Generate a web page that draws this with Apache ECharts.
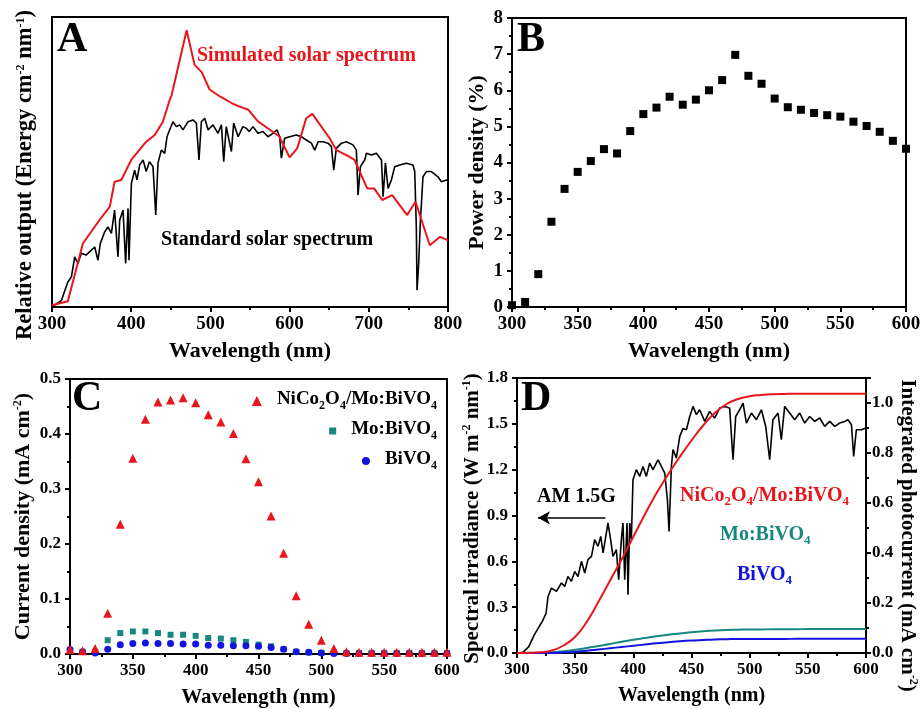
<!DOCTYPE html>
<html>
<head>
<meta charset="utf-8">
<script src="https://cdn.jsdelivr.net/npm/echarts@6/dist/echarts.min.js"></script>
<style>
  html, body { margin: 0; padding: 0; background: #fff; }
  #chart { width: 921px; height: 709px; }
</style>
</head>
<body>
<div id="chart"></div>
<script>
// ---- panel A: solar spectra (relative units) ----
const stdWl = [300, 305, 312, 320, 324.5, 328.7, 332.8, 337, 343, 349.7, 354, 358, 361, 366.5, 370.7, 375, 379, 383.3, 385.5, 389.7, 393, 396, 397.2, 400.2, 404.4, 407.3, 410.7, 415, 419, 423, 427.5, 431, 433.8, 438, 442.3, 445.2, 448.6, 452.8, 457, 461, 465.4, 471.7, 478, 482.3, 485.6, 488.6, 492.8, 497, 503.3, 509.6, 513.9, 516.8, 520, 526.5, 529.4, 535, 541, 545.4, 549, 553.8, 560, 566.4, 572.7, 579, 584, 587.5, 589.6, 593.8, 600, 608.5, 615, 621, 627.5, 631.7, 636, 642, 648.5, 652.8, 655.7, 659, 665.4, 671.7, 680, 684.3, 686.4, 689.4, 694.8, 697, 703.3, 709.6, 716, 718, 721, 724.3, 728.5, 732.7, 739, 747.5, 755.8, 758, 760, 760.9, 763, 765, 768.4, 772.7, 779, 787.4, 791.7, 798, 800];
const stdVal = [0.002, 0.01, 0.023, 0.086, 0.104, 0.173, 0.150, 0.185, 0.179, 0.196, 0.207, 0.161, 0.219, 0.259, 0.276, 0.254, 0.334, 0.173, 0.300, 0.334, 0.150, 0.340, 0.161, 0.426, 0.472, 0.438, 0.490, 0.507, 0.467, 0.501, 0.484, 0.317, 0.496, 0.541, 0.530, 0.587, 0.611, 0.639, 0.622, 0.628, 0.611, 0.639, 0.645, 0.634, 0.507, 0.639, 0.651, 0.611, 0.628, 0.599, 0.628, 0.501, 0.622, 0.536, 0.634, 0.587, 0.622, 0.616, 0.605, 0.622, 0.599, 0.605, 0.587, 0.599, 0.611, 0.587, 0.513, 0.582, 0.587, 0.593, 0.587, 0.576, 0.565, 0.541, 0.570, 0.570, 0.565, 0.553, 0.472, 0.547, 0.565, 0.570, 0.559, 0.541, 0.386, 0.484, 0.507, 0.530, 0.524, 0.530, 0.507, 0.380, 0.496, 0.409, 0.438, 0.484, 0.490, 0.496, 0.490, 0.467, 0.276, 0.058, 0.150, 0.288, 0.449, 0.467, 0.467, 0.449, 0.432, 0.438, 0.435];
const simWl = [300, 320, 339, 360, 373, 379, 387.5, 400, 419, 429.7, 440, 448.6, 451, 470, 480, 489, 499, 512, 529, 537, 548, 560, 568, 587, 600, 609.6, 621, 628.7, 650.5, 659, 671.7, 682, 698, 706.7, 717, 729.5, 748.5, 759, 777, 790, 800];
const simVal = [0.006, 0.02, 0.219, 0.300, 0.346, 0.432, 0.438, 0.507, 0.570, 0.593, 0.639, 0.714, 0.730, 0.954, 0.835, 0.810, 0.750, 0.726, 0.700, 0.691, 0.680, 0.640, 0.625, 0.588, 0.516, 0.547, 0.651, 0.666, 0.582, 0.541, 0.524, 0.507, 0.409, 0.409, 0.369, 0.386, 0.317, 0.363, 0.213, 0.242, 0.230];

// ---- panel B: power density (%) ----
const powerWl = [300, 310, 320, 330, 340, 350, 360, 370, 380, 390, 400, 410, 420, 430, 440, 450, 460, 470, 480, 490, 500, 510, 520, 530, 540, 550, 560, 570, 580, 590, 600];
const powerVal = [0.05, 0.14, 0.91, 2.36, 3.27, 3.74, 4.04, 4.37, 4.25, 4.87, 5.34, 5.52, 5.82, 5.60, 5.74, 6.00, 6.28, 6.98, 6.40, 6.18, 5.77, 5.53, 5.46, 5.37, 5.31, 5.27, 5.13, 5.01, 4.85, 4.60, 4.38];

// ---- panel C: current density (mA cm-2) ----
const qeWl = [300, 310, 320, 330, 340, 350, 360, 370, 380, 390, 400, 410, 420, 430, 440, 450, 460, 470, 480, 490, 500, 510, 520, 530, 540, 550, 560, 570, 580, 590, 600];
const nicoCur = [0.008, 0.006, 0.010, 0.074, 0.236, 0.356, 0.427, 0.458, 0.462, 0.466, 0.457, 0.435, 0.422, 0.401, 0.355, 0.313, 0.251, 0.183, 0.106, 0.054, 0.025, 0.010, 0.004, 0.003, 0.003, 0.003, 0.003, 0.003, 0.003, 0.003, 0.003];
const moCur = [0.006, 0.004, 0.004, 0.025, 0.038, 0.041, 0.041, 0.038, 0.035, 0.035, 0.033, 0.029, 0.028, 0.025, 0.022, 0.017, 0.014, 0.009, 0.004, 0.003, 0.002, 0.002, 0.002, 0.002, 0.002, 0.002, 0.002, 0.002, 0.002, 0.002, 0.002];
const bvoCur = [0.008, 0.004, 0.002, 0.0085, 0.017, 0.019, 0.020, 0.019, 0.019, 0.018, 0.018, 0.016, 0.016, 0.015, 0.015, 0.014, 0.012, 0.0085, 0.004, 0.003, 0.002, 0.001, 0.001, 0.001, 0.001, 0.001, 0.001, 0.001, 0.001, 0.001, 0.001];

// ---- panel D: AM 1.5G irradiance + integrated photocurrent ----
const amWl = [300, 305, 310, 315, 318, 320, 322, 325, 326.7, 329.6, 333.9, 338.2, 341, 343.8, 346.8, 349.6, 352.4, 355.4, 358.2, 361, 364, 366.8, 369.6, 372, 374, 376.8, 378.2, 380.5, 382.5, 385.4, 387.4, 389.7, 391.1, 392.6, 394.6, 395.4, 396.9, 398.3, 399.7, 402.6, 405.5, 408.3, 411.2, 414, 416.9, 421.2, 424.1, 427, 429.3, 430.7, 432.7, 434.1, 437, 439.9, 442.7, 445.6, 448.5, 451.3, 454.2, 457, 461.4, 465.6, 469.9, 474.2, 478.5, 482.8, 485.7, 488, 491.4, 494.3, 497.2, 501.5, 505.8, 510.1, 513.8, 517.2, 520, 524.4, 527.2, 530.1, 534.4, 538.7, 543, 547.3, 551.6, 555.9, 560.2, 564.5, 568.8, 573.1, 577.4, 581.7, 584.5, 587.5, 589.4, 591.7, 596, 600];
const amVal = [0, 0.004, 0.04, 0.12, 0.16, 0.185, 0.21, 0.26, 0.37, 0.425, 0.403, 0.458, 0.436, 0.501, 0.469, 0.534, 0.501, 0.60, 0.524, 0.611, 0.632, 0.742, 0.698, 0.763, 0.655, 0.785, 0.851, 0.742, 0.632, 0.676, 0.48, 0.742, 0.851, 0.48, 0.851, 0.382, 0.851, 0.742, 1.134, 1.20, 1.156, 1.221, 1.156, 1.243, 1.20, 1.265, 1.221, 1.178, 1.003, 0.796, 1.221, 1.331, 1.276, 1.418, 1.47, 1.461, 1.548, 1.614, 1.56, 1.592, 1.516, 1.581, 1.538, 1.603, 1.614, 1.603, 1.265, 1.548, 1.592, 1.636, 1.505, 1.571, 1.527, 1.592, 1.483, 1.265, 1.527, 1.571, 1.396, 1.614, 1.571, 1.527, 1.571, 1.505, 1.548, 1.516, 1.538, 1.483, 1.516, 1.483, 1.505, 1.516, 1.527, 1.494, 1.287, 1.461, 1.461, 1.473];
const integWl = [300, 310, 320, 330, 340, 350, 360, 370, 380, 390, 400, 410, 420, 430, 440, 450, 460, 470, 480, 490, 500, 510, 520, 530, 540, 550, 560, 570, 580, 590, 600];
const nicoInt = [0, 0.001, 0.003, 0.01, 0.03, 0.065, 0.125, 0.205, 0.29, 0.375, 0.465, 0.555, 0.64, 0.715, 0.785, 0.85, 0.91, 0.96, 0.995, 1.016, 1.027, 1.032, 1.035, 1.036, 1.037, 1.037, 1.037, 1.037, 1.037, 1.037, 1.037];
const moInt = [0, 0, 0.001, 0.003, 0.007, 0.013, 0.02, 0.028, 0.036, 0.045, 0.053, 0.06, 0.067, 0.073, 0.078, 0.083, 0.087, 0.09, 0.092, 0.093, 0.094, 0.094, 0.095, 0.095, 0.095, 0.096, 0.096, 0.096, 0.096, 0.096, 0.096];
const bvoInt = [0, 0, 0, 0, 0.002, 0.005, 0.009, 0.014, 0.019, 0.024, 0.029, 0.034, 0.039, 0.043, 0.047, 0.05, 0.052, 0.054, 0.055, 0.056, 0.056, 0.056, 0.056, 0.056, 0.057, 0.057, 0.057, 0.057, 0.057, 0.057, 0.057];

const FONT = "'Liberation Serif', 'Times New Roman', serif";
const RED = '#e8161c', TEAL = '#17877f', BLUE = '#1414e0';

function pairs(xs, ys) {
    return xs.map((x, i) => [x, ys[i]]);
}

// rich style for axis titles with superscripts
function nameStyle(size, padding) {
    return {
        fontFamily: FONT, fontWeight: 'bold', fontSize: size, color: '#000', padding: padding || 0,
        rich: {
            m: { fontFamily: FONT, fontWeight: 'bold', fontSize: size, color: '#000', lineHeight: 22, verticalAlign: 'bottom' },
            sup: { fontFamily: FONT, fontWeight: 'bold', fontSize: 12, color: '#000', lineHeight: 10, verticalAlign: 'top' }
        }
    };
}

// ticks sit outside the frame, like the original Origin plots
const tickStyle = { show: true, inside: false, length: 5, lineStyle: { color: '#000', width: 2 } };
const minorStyle = { show: true, splitNumber: 2, length: 3, lineStyle: { color: '#000', width: 2 } };

function xAxisFor(grid, tickSize, nameSize) {
    return {
        gridIndex: grid, type: 'value', min: 300, max: grid == 0 ? 800 : 600, interval: grid == 0 ? 100 : 50,
        name: 'Wavelength (nm)', nameLocation: 'middle', nameGap: 33,
        nameTextStyle: { fontFamily: FONT, fontWeight: 'bold', fontSize: nameSize, color: '#000' },
        axisLine: { show: true, onZero: false, lineStyle: { color: '#000', width: 2 } },
        axisTick: tickStyle,
        minorTick: minorStyle,
        axisLabel: { margin: 8, fontFamily: FONT, fontWeight: 'bold', fontSize: tickSize, color: '#000' },
        splitLine: { show: false }
    };
}

function yAxisFor(grid, opts) {
    return Object.assign({
        gridIndex: grid, type: 'value',
        nameLocation: 'middle',
        axisLine: { show: true, onZero: false, lineStyle: { color: '#000', width: 2 } },
        axisTick: tickStyle,
        minorTick: minorStyle,
        axisLabel: { margin: 8, fontFamily: FONT, fontWeight: 'bold', fontSize: 17, color: '#000' },
        splitLine: { show: false }
    }, opts);
}

const gridBase = { show: true, borderColor: '#000', borderWidth: 2, backgroundColor: 'transparent', outerBoundsMode: 'none' };

// legend text with subscripts
const subRich = {
    g: { width: 10 },
    m: { fontFamily: FONT, fontWeight: 'bold', fontSize: 19, color: '#000', lineHeight: 22, verticalAlign: 'top' },
    s: { fontFamily: FONT, fontWeight: 'bold', fontSize: 12, color: '#000', lineHeight: 12, verticalAlign: 'bottom' }
};
const legendText = {
    'NiCo2O4/Mo:BiVO4': '{g|}{m|NiCo}{s|2}{m|O}{s|4}{m|/Mo:BiVO}{s|4}',
    'Mo:BiVO4': '{g|}{m|Mo:BiVO}{s|4}',
    'BiVO4': '{g|}{m|BiVO}{s|4}'
};
function legendFor(name, top, size) {
    return {
        data: [name], right: 484, top: top, padding: 0, selectedMode: false,
        itemWidth: size, itemHeight: size,
        formatter: n => legendText[n],
        textStyle: { color: '#000', rich: subRich }
    };
}

function graphicRich(text, x, y, color) {
    return {
        type: 'text', x: x, y: y,
        style: {
            text: text, verticalAlign: 'middle', fill: color,
            rich: {
                m: { fontFamily: FONT, fontWeight: 'bold', fontSize: 20, fill: color, lineHeight: 22, verticalAlign: 'top' },
                s: { fontFamily: FONT, fontWeight: 'bold', fontSize: 13, fill: color, lineHeight: 12, verticalAlign: 'bottom' }
            }
        }
    };
}
function graphicText(text, x, y, color, size) {
    return {
        type: 'text', x: x, y: y,
        style: { text: text, fontFamily: FONT, fontWeight: 'bold', fontSize: size, fill: color, verticalAlign: 'middle' }
    };
}

const chart = echarts.init(document.getElementById('chart'));
const option = {
    animation: false,
    backgroundColor: '#fff',
    grid: [
        Object.assign({ left: 52, top: 17, width: 396, height: 290 }, gridBase),
        Object.assign({ left: 512, top: 18, width: 394, height: 289 }, gridBase),
        Object.assign({ left: 70, top: 379, width: 377, height: 275 }, gridBase),
        Object.assign({ left: 517, top: 378, width: 349, height: 275 }, gridBase)
    ],
    xAxis: [xAxisFor(0, 19, 22), xAxisFor(1, 19, 22), xAxisFor(2, 17, 21), xAxisFor(3, 17, 20)],
    yAxis: [
        yAxisFor(0, {
            min: 0, max: 1, axisTick: { show: false }, minorTick: { show: false }, axisLabel: { show: false },
            name: '{m|Relative output (Energy cm}{sup|-2}{m| nm}{sup|-1}{m|)}', nameGap: 15, nameTextStyle: nameStyle(22.5, [0, 26, 0, 0])
        }),
        yAxisFor(1, {
            min: 0, max: 8, interval: 1, axisLabel: { margin: 9, fontFamily: FONT, fontWeight: 'bold', fontSize: 19, color: '#000' },
            name: 'Power density (%)', nameGap: 24, nameTextStyle: { fontFamily: FONT, fontWeight: 'bold', fontSize: 22, color: '#000' }
        }),
        yAxisFor(2, {
            min: 0, max: 0.5, interval: 0.1,
            axisLabel: { margin: 9, fontFamily: FONT, fontWeight: 'bold', fontSize: 17, color: '#000', formatter: v => v.toFixed(1) },
            name: '{m|Current density (mA cm}{sup|-2}{m|)}', nameGap: 36, nameTextStyle: nameStyle(22)
        }),
        yAxisFor(3, {
            min: 0, max: 1.8, interval: 0.3,
            axisLabel: { margin: 9, fontFamily: FONT, fontWeight: 'bold', fontSize: 17, color: '#000', formatter: v => v.toFixed(1) },
            name: '{m|Spectral irradiance (W m}{sup|-2}{m| nm}{sup|-1}{m|)}', nameGap: 33, nameTextStyle: nameStyle(21, [0, 6, 0, 0])
        }),
        yAxisFor(3, {
            position: 'right', min: 0, max: 1.1, interval: 0.2,
            axisLabel: { margin: 6, fontFamily: FONT, fontWeight: 'bold', fontSize: 17, color: '#000', showMaxLabel: false, formatter: v => v.toFixed(1) },
            name: '{m|Integrated photocurrent (mA cm}{sup|-2}{m|)}', nameGap: 31, nameRotate: -90, nameTextStyle: nameStyle(21, [0, 0, 0, 40])
        })
    ],
    legend: [
        legendFor('NiCo2O4/Mo:BiVO4', 390, 10),
        legendFor('Mo:BiVO4', 420, 7),
        legendFor('BiVO4', 450, 8)
    ],
    series: [
        // A
        { type: 'line', xAxisIndex: 0, yAxisIndex: 0, data: pairs(stdWl, stdVal), showSymbol: false, lineStyle: { color: '#000', width: 1.6 }, itemStyle: { color: '#000' } },
        { type: 'line', xAxisIndex: 0, yAxisIndex: 0, data: pairs(simWl, simVal), showSymbol: false, lineStyle: { color: RED, width: 2 }, itemStyle: { color: RED } },
        // B
        { type: 'scatter', xAxisIndex: 1, yAxisIndex: 1, data: pairs(powerWl, powerVal), symbol: 'rect', symbolSize: 8, itemStyle: { color: '#000', opacity: 1 } },
        // C
        { name: 'Mo:BiVO4', type: 'scatter', xAxisIndex: 2, yAxisIndex: 2, data: pairs(qeWl, moCur), symbol: 'rect', symbolSize: 6, itemStyle: { color: TEAL, opacity: 1 } },
        { name: 'BiVO4', type: 'scatter', xAxisIndex: 2, yAxisIndex: 2, data: pairs(qeWl, bvoCur), symbol: 'circle', symbolSize: 7, itemStyle: { color: BLUE, opacity: 1 } },
        { name: 'NiCo2O4/Mo:BiVO4', type: 'scatter', xAxisIndex: 2, yAxisIndex: 2, data: pairs(qeWl, nicoCur), symbol: 'triangle', symbolSize: 9, itemStyle: { color: RED, opacity: 1 } },
        // D
        {
            type: 'line', xAxisIndex: 3, yAxisIndex: 3, data: pairs(amWl, amVal), showSymbol: false,
            lineStyle: { color: '#000', width: 1.6 }, itemStyle: { color: '#000' },
            markLine: {
                silent: true, symbol: ['none', 'arrow'], symbolSize: [10, 12],
                label: { show: false }, lineStyle: { color: '#000', width: 1.5, type: 'solid' },
                data: [[{ coord: [376, 0.885] }, { coord: [318, 0.885] }]]
            }
        },
        { type: 'line', xAxisIndex: 3, yAxisIndex: 4, data: pairs(integWl, moInt), smooth: true, showSymbol: false, lineStyle: { color: TEAL, width: 2 } },
        { type: 'line', xAxisIndex: 3, yAxisIndex: 4, data: pairs(integWl, bvoInt), smooth: true, showSymbol: false, lineStyle: { color: BLUE, width: 2 } },
        { type: 'line', xAxisIndex: 3, yAxisIndex: 4, data: pairs(integWl, nicoInt), smooth: true, showSymbol: false, lineStyle: { color: RED, width: 2 } }
    ],
    graphic: [
        graphicText('A', 57, 40, '#000', 42),
        graphicText('B', 517, 40, '#000', 42),
        graphicText('C', 72, 399, '#000', 42),
        graphicText('D', 521, 399, '#000', 42),
        graphicText('Simulated solar spectrum', 197, 56, RED, 20),
        graphicText('Standard solar spectrum', 161, 240, '#000', 20),
        graphicText('AM 1.5G', 537, 497, '#000', 20),
        graphicRich('{m|NiCo}{s|2}{m|O}{s|4}{m|/Mo:BiVO}{s|4}', 680, 497, RED),
        graphicRich('{m|Mo:BiVO}{s|4}', 720, 536, TEAL),
        graphicRich('{m|BiVO}{s|4}', 737, 576, BLUE)
    ]
};
chart.setOption(option);
</script>
</body>
</html>
